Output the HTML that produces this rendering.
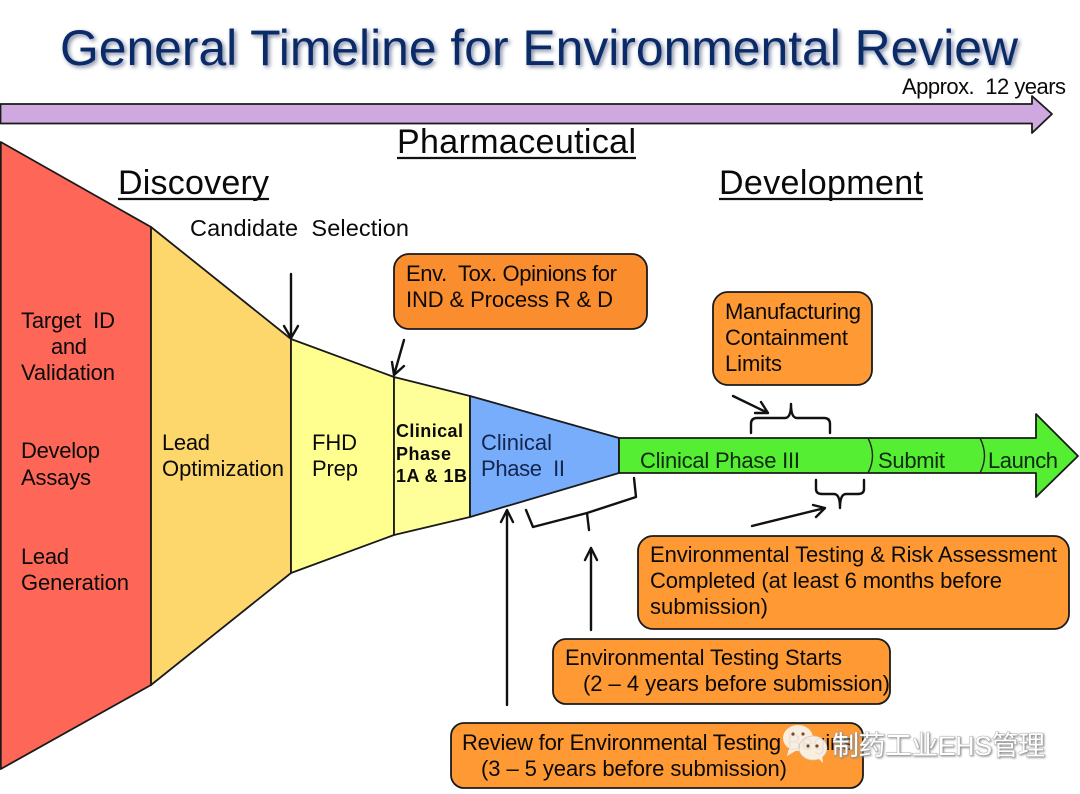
<!DOCTYPE html>
<html><head><meta charset="utf-8"><style>
html,body{margin:0;padding:0;background:#fff;width:1080px;height:794px;overflow:hidden}
svg{display:block}
text{font-family:"Liberation Sans",sans-serif;font-size:22px;fill:#0a0a0a;white-space:pre}
.b{font-size:18px;font-weight:bold}
.h{font-size:34px}
.l{fill:none;stroke:#111;stroke-width:2.4;stroke-linecap:round;stroke-linejoin:round}
.s{stroke:#1a1a1a;stroke-width:1.8;stroke-linejoin:round}
.w{font-family:"Liberation Sans","Noto Sans CJK SC",sans-serif;font-size:27px;fill:#fff;stroke:#999;stroke-width:.7;paint-order:stroke;filter:drop-shadow(1px 1px 1px #888)}
</style></head><body>
<svg width="1080" height="794" viewBox="0 0 1080 794" xmlns="http://www.w3.org/2000/svg">
<rect width="1080" height="794" fill="#fff"/>
<text x="60" y="65" textLength="958" lengthAdjust="spacingAndGlyphs" style="font-size:50px;fill:#0b2a68;filter:drop-shadow(2px 2px 2px #7d86a0)">General Timeline for Environmental Review</text>
<polygon class="s" points="0.5,104 1032,104 1032,96 1052,114 1032,133 1032,123.5 0.5,123.5" fill="#cfa8e0"/>
<text x="902" y="94" textLength="164">Approx.  12 years</text>
<text class="h" x="397" y="153" textLength="239">Pharmaceutical</text><line x1="397" y1="158" x2="636" y2="158" stroke="#111" stroke-width="2.2"/>
<text class="h" x="118" y="194" textLength="151">Discovery</text><line x1="118" y1="199" x2="269" y2="199" stroke="#111" stroke-width="2.2"/>
<text class="h" x="719" y="194" textLength="204">Development</text><line x1="719" y1="199" x2="923" y2="199" stroke="#111" stroke-width="2.2"/>
<text x="190" y="236" textLength="219" style="font-size:23.5px">Candidate  Selection</text>
<polygon class="s" points="0.8,142 151,227 151,685 0.8,769" fill="#fe6657"/>
<polygon class="s" points="151,227 291,339 291,573 151,685" fill="#fdd76c"/>
<polygon class="s" points="291,339 394,377 394,535 291,573" fill="#ffff8f"/>
<polygon class="s" points="394,377 470,396 470,517 394,535" fill="#ffff99"/>
<polygon class="s" points="470,396 619,438 619,473 470,517" fill="#78adfb"/>
<polygon class="s" points="619,438 1036,438 1036,414 1078,456 1036,497 1036,473 619,473" fill="#55ee33"/>
<path d="M868,438Q877,456 868,473M980,438Q989,456 980,473" fill="none" stroke="#222" stroke-width="1.4"/>
<text x="21" y="328" textLength="94">Target  ID</text>
<text x="51" y="354" textLength="36">and</text>
<text x="21" y="380" textLength="94">Validation</text>
<text x="21" y="458" textLength="79">Develop</text>
<text x="21" y="485" textLength="70">Assays</text>
<text x="21" y="564" textLength="48">Lead</text>
<text x="21" y="590" textLength="108">Generation</text>
<text x="162" y="450" textLength="48">Lead</text>
<text x="162" y="476" textLength="122">Optimization</text>
<text x="312" y="450" textLength="45">FHD</text>
<text x="312" y="476" textLength="46">Prep</text>
<text class="b" x="396" y="437" textLength="67">Clinical</text>
<text class="b" x="396" y="460" textLength="55">Phase</text>
<text class="b" x="396" y="482" textLength="71">1A &amp; 1B</text>
<text x="481" y="450" textLength="71" style="fill:#14264d">Clinical</text>
<text x="481" y="476" textLength="84" style="fill:#14264d">Phase  II</text>
<text x="640" y="468" textLength="160" style="fill:#0c2a12">Clinical Phase III</text>
<text x="878" y="468" textLength="67" style="fill:#0c2a12">Submit</text>
<text x="988" y="468" textLength="70" style="fill:#0c2a12">Launch</text>
<rect class="s" x="394" y="254" width="253" height="75" rx="15" fill="#fa8d2e"/>
<text x="406" y="281" textLength="211">Env.  Tox. Opinions for</text>
<text x="406" y="307" textLength="207">IND &amp; Process R &amp; D</text>
<rect class="s" x="713" y="292" width="159" height="93" rx="15" fill="#fe9933"/>
<text x="725" y="319" textLength="136">Manufacturing</text>
<text x="725" y="345" textLength="123">Containment</text>
<text x="725" y="371" textLength="57">Limits</text>
<rect class="s" x="638" y="536" width="431" height="93" rx="15" fill="#fe9933"/>
<text x="650" y="562" textLength="407">Environmental Testing &amp; Risk Assessment</text>
<text x="650" y="588" textLength="352">Completed (at least 6 months before</text>
<text x="650" y="614" textLength="118">submission)</text>
<rect class="s" x="553" y="639" width="337" height="65" rx="13" fill="#fe9933"/>
<text x="565" y="665" textLength="277">Environmental Testing Starts</text>
<text x="583" y="691" textLength="307">(2 – 4 years before submission)</text>
<rect class="s" x="451" y="723" width="412" height="65" rx="13" fill="#fe9933"/>
<text x="462" y="750" textLength="391">Review for Environmental Testing Begins</text>
<text x="481" y="776" textLength="306">(3 – 5 years before submission)</text>
<path class="l" d="M291,274V338M284,326L291,338L298,326"/>
<path class="l" d="M404,340L394,375M392,362L394,375L404,366"/>
<path class="l" d="M733,396L768,413M755,413H768L761,402"/>
<path class="l" d="M752,526L825,508M813,505L825,508L816,517"/>
<path class="l" d="M591,630V548M585,560L591,548L597,560"/>
<path class="l" d="M507,705V510M501,522L507,510L513,522"/>
<path class="l" d="M751,433V424Q751,418 757,418H785Q791,418 791,404Q791,418 797,418H824Q830,418 830,424V433"/>
<path class="l" d="M816,480V489Q816,494 822,494H834Q840,494 840,508Q840,494 846,494H858Q864,494 864,489V480"/>
<path class="l" d="M634,478L636,497L587,513L533,527L526,510M587,513L589,530"/>
<g opacity=".93">
<ellipse cx="798" cy="738" rx="15" ry="13" fill="#fbf5ec"/><path d="M789,748L787,756L797,750Z" fill="#fbf5ec"/>
<circle cx="793" cy="734" r="1.6" fill="#6a4a2a"/><circle cx="803" cy="734" r="1.6" fill="#6a4a2a"/>
<ellipse cx="813" cy="748" rx="14" ry="12" fill="#fbf5ec" stroke="#ccc" stroke-width=".7"/><path d="M818,758L823,763L822,755Z" fill="#fbf5ec"/>
<circle cx="808" cy="746" r="1.6" fill="#6a4a2a"/><circle cx="817" cy="746" r="1.6" fill="#6a4a2a"/>
</g>
<text class="w" x="832" y="755" textLength="213">制药工业EHS管理</text>
</svg>
</body></html>
